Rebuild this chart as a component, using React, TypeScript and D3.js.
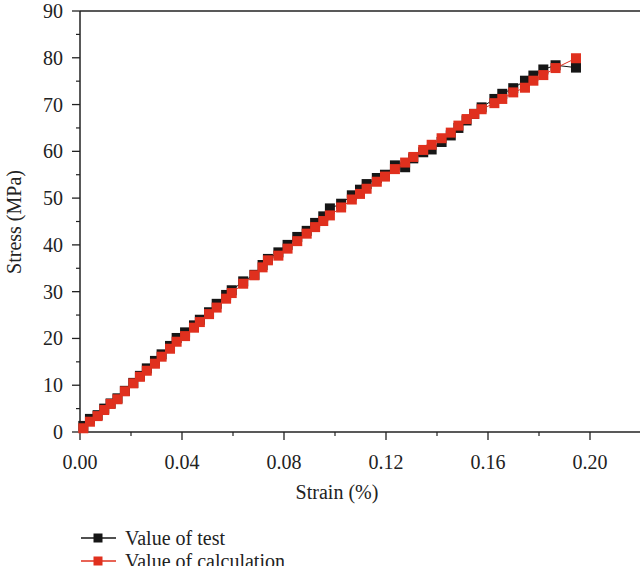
import React from "react";
import * as d3 from "d3";

// strain (%) values shared by both series
const strainCalc = [
  0.0013, 0.0039, 0.0069, 0.0095, 0.012, 0.0147, 0.0176, 0.0209, 0.0235, 0.0262,
  0.0294, 0.032, 0.0353, 0.0379, 0.0412, 0.0447, 0.047, 0.0506, 0.0536, 0.0573,
  0.0595, 0.064, 0.0684, 0.0716, 0.0737, 0.0778, 0.0814, 0.0852, 0.0889, 0.0922,
  0.0954, 0.098, 0.1024, 0.1066, 0.1098, 0.1124, 0.1164, 0.1196, 0.1235, 0.1275,
  0.1307, 0.1346, 0.1379, 0.1418, 0.1454, 0.1484, 0.1516, 0.1546, 0.1575, 0.1625,
  0.1656, 0.1699, 0.1745, 0.1778, 0.1817, 0.1865, 0.1945,
];
const stressCalc = [
  0.8, 2.2, 3.4, 4.7, 6.0, 7.0, 8.7, 10.4, 11.8, 13.1,
  14.6, 16.1, 17.8, 19.3, 20.5, 22.3, 23.5, 25.2, 26.6, 28.5,
  29.7, 31.7, 33.5, 35.2, 36.7, 37.7, 39.2, 40.8, 42.4, 43.8,
  45.1, 46.3, 48.0, 49.7, 50.9, 52.0, 53.5, 54.6, 56.2, 57.6,
  58.8, 60.3, 61.4, 62.8, 64.0, 65.5, 66.9, 68.0, 69.0, 70.3,
  71.2, 72.6, 73.6, 75.1, 76.3, 77.8, 79.9,
];
const strainTest = strainCalc;
const stressTest = [
  1.3, 2.8, 3.6, 5.0, 6.1, 7.2, 8.8, 10.5, 12.0, 13.6,
  15.2, 16.6, 18.4, 20.1, 21.3, 22.8, 24.0, 25.6, 27.4, 29.3,
  30.3, 32.2, 33.6, 35.7, 37.0, 38.4, 40.0, 41.7, 43.0, 44.7,
  46.1, 47.8, 48.8, 50.6, 51.8, 53.0, 54.3, 55.0, 57.0, 56.6,
  58.5, 59.8, 60.4, 62.0, 63.4, 65.0, 66.6, 68.0, 69.4, 71.2,
  72.3, 73.5, 75.1, 76.2, 77.5, 78.4, 77.9,
];
const xTicks = [0, 0.04, 0.08, 0.12, 0.16, 0.2];
const xMinor = [0.02, 0.06, 0.1, 0.14, 0.18, 0.22];
const yTicks = [0, 10, 20, 30, 40, 50, 60, 70, 80, 90];
const yMinor = [5, 15, 25, 35, 45, 55, 65, 75, 85];
const legendLabels = ["Value of test", "Value of calculation"];

const RED = "#e0301e";
const BLACK = "#161616";
const FONT = "'Liberation Serif', 'DejaVu Serif', serif";
const FS = 20;

export default function App() {
  const left = 80, top = 11, bottom = 432, right = 641;
  const x = d3.scaleLinear().domain([0, 0.22]).range([left, right]);
  const y = d3.scaleLinear().domain([0, 90]).range([bottom, top]);

  const line = d3.line<[number, number]>().x(d => x(d[0])).y(d => y(d[1]));
  const testPts: [number, number][] = strainTest.map((s, i) => [s, stressTest[i]]);
  const calcPts: [number, number][] = strainCalc.map((s, i) => [s, stressCalc[i]]);
  const sq = 10;

  return (
    <svg width={640} height={566} style={{ position: "absolute", left: 0, top: 0, background: "#fff" }}
      fontFamily={FONT}>
      {/* frame */}
      <line x1={left} x2={right} y1={y(90)} y2={y(90)} stroke="#222" strokeWidth={1.5} />
      <line x1={left} x2={left} y1={y(90)} y2={bottom} stroke="#222" strokeWidth={1.5} />
      <line x1={left} x2={right} y1={bottom} y2={bottom} stroke="#222" strokeWidth={1.5} />

      {/* y axis */}
      {yTicks.map(t => (
        <g key={"y" + t}>
          <line x1={left - 8} x2={left} y1={y(t)} y2={y(t)} stroke="#222" strokeWidth={1.3} />
          <text x={left - 17} y={y(t)} dy="0.35em" textAnchor="end" fontSize={FS} fill="#222">{t}</text>
        </g>
      ))}
      {yMinor.map(t => (
        <line key={"ym" + t} x1={left - 4} x2={left} y1={y(t)} y2={y(t)} stroke="#222" strokeWidth={1.2} />
      ))}

      {/* x axis */}
      {xTicks.map(t => (
        <g key={"x" + t}>
          <line x1={x(t)} x2={x(t)} y1={bottom} y2={bottom + 8} stroke="#222" strokeWidth={1.3} />
          <text x={x(t)} y={bottom + 37} textAnchor="middle" fontSize={FS} fill="#222">{t.toFixed(2)}</text>
        </g>
      ))}
      {xMinor.map(t => (
        <line key={"xm" + t} x1={x(t)} x2={x(t)} y1={bottom} y2={bottom + 4} stroke="#222" strokeWidth={1.2} />
      ))}

      <text x={337} y={499} textAnchor="middle" fontSize={FS} fill="#222">Strain (%)</text>
      <text transform="translate(21,222) rotate(-90)" textAnchor="middle" fontSize={FS} fill="#222">Stress (MPa)</text>

      {/* series */}
      <path d={line(testPts) || ""} fill="none" stroke={BLACK} strokeWidth={1} />
      {testPts.map((d, i) => (
        <rect key={"t" + i} x={x(d[0]) - sq / 2} y={y(d[1]) - sq / 2} width={sq} height={sq} fill={BLACK} />
      ))}
      <path d={line(calcPts) || ""} fill="none" stroke={RED} strokeWidth={1} />
      {calcPts.map((d, i) => (
        <rect key={"c" + i} x={x(d[0]) - sq / 2} y={y(d[1]) - sq / 2} width={sq} height={sq} fill={RED} />
      ))}

      {/* legend */}
      {legendLabels.map((label, i) => {
        const ly = 538 + i * 23;
        const c = i === 0 ? BLACK : RED;
        return (
          <g key={label}>
            <line x1={81} x2={116} y1={ly} y2={ly} stroke={c} strokeWidth={1.3} />
            <rect x={93.5} y={ly - 4.5} width={9} height={9} fill={c} />
            <text x={125} y={ly} dy="0.35em" fontSize={FS} fill="#222">{label}</text>
          </g>
        );
      })}
    </svg>
  );
}
